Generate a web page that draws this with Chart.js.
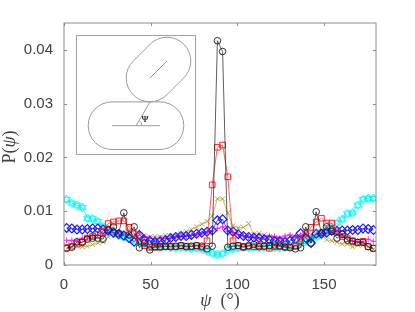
<!DOCTYPE html>
<html>
<head>
<meta charset="utf-8" />
<title>P(psi)</title>
<script src="https://cdn.jsdelivr.net/npm/chart.js@4"></script>
<style>
    body { margin: 0; background: #fff; }
    canvas { display: block; }
</style>
</head>
<body>
<canvas id="psiChart" width="415" height="312"></canvas>
<script>
// angle bins, centre of each 3 degree bin
const psiBins = [1.5,4.5,7.5,10.5,13.5,16.5,19.5,22.5,25.5,28.5,31.5,34.5,37.5,40.5,43.5,46.5,49.5,52.5,55.5,58.5,
    61.5,64.5,67.5,70.5,73.5,76.5,79.5,82.5,85.5,88.5,91.5,94.5,97.5,100.5,103.5,106.5,109.5,112.5,115.5,118.5,
    121.5,124.5,127.5,130.5,133.5,136.5,139.5,142.5,145.5,148.5,151.5,154.5,157.5,160.5,163.5,166.5,169.5,172.5,175.5,178.5];

const blackVals = [.0031,.0033,.0043,.0042,.0048,.0050,.0050,.0048,.0065,.0071,.0059,.0097,.0056,.0071,.0032,.0041,.0028,.0034,.0034,.0035,
    .0034,.0035,.0036,.0034,.0035,.0036,.0035,.0030,.0035,.0417,.0397,.0033,.0035,.0036,.0034,.0036,.0038,.0034,.0035,.0036,
    .0037,.0035,.0033,.0032,.0030,.0032,.0071,.0041,.0099,.0060,.0071,.0062,.0050,.0057,.0046,.0044,.0042,.0042,.0034,.0031];
const redVals = [.0032,.0035,.0039,.0043,.0050,.0053,.0057,.0063,.0077,.0080,.0082,.0082,.0070,.0058,.0045,.0036,.0033,.0033,.0033,.0034,
    .0035,.0034,.0036,.0035,.0034,.0036,.0033,.0045,.0149,.0219,.0223,.0164,.0045,.0036,.0033,.0035,.0034,.0036,.0035,.0031,
    .0034,.0036,.0034,.0033,.0035,.0045,.0058,.0070,.0080,.0087,.0078,.0078,.0064,.0053,.0049,.0045,.0042,.0044,.0034,.0031];
const oliveVals = [.0037,.0034,.0036,.0034,.0035,.0038,.0041,.0043,.0052,.0058,.0061,.0060,.0058,.0051,.0057,.0054,.0052,.0053,.0052,.0055,
    .0052,.0054,.0058,.0062,.0066,.0071,.0076,.0081,.0091,.0123,.0123,.0097,.0073,.0069,.0070,.0077,.0057,.0059,.0056,.0053,
    .0051,.0050,.0049,.0053,.0052,.0043,.0050,.0056,.0058,.0056,.0047,.0045,.0042,.0039,.0039,.0034,.0037,.0037,.0034,.0029];
const magentaVals = [.0046,.0046,.0046,.0050,.0052,.0055,.0055,.0055,.0060,.0060,.0060,.0058,.0056,.0054,.0060,.0052,.0050,.0048,.0050,.0049,
    .0050,.0052,.0053,.0054,.0055,.0056,.0058,.0061,.0063,.0068,.0071,.0063,.0060,.0056,.0054,.0052,.0052,.0050,.0052,.0054,
    .0053,.0050,.0054,.0056,.0051,.0055,.0056,.0052,.0057,.0056,.0058,.0060,.0062,.0054,.0052,.0045,.0044,.0043,.0048,.0044];
const blueVals = [.0069,.0068,.0066,.0066,.0067,.0068,.0068,.0066,.0064,.0060,.0057,.0055,.0050,.0043,.0056,.0046,.0045,.0043,.0044,.0046,
    .0050,.0052,.0054,.0054,.0056,.0058,.0060,.0062,.0064,.0083,.0085,.0064,.0062,.0057,.0054,.0052,.0051,.0050,.0048,.0047,
    .0045,.0044,.0043,.0045,.0048,.0059,.0050,.0041,.0058,.0058,.0060,.0064,.0063,.0064,.0064,.0065,.0065,.0068,.0067,.0065];
const cyanVals = [.0122,.0115,.0111,.0107,.0087,.0086,.0081,.0071,.0062,.0059,.0056,.0052,.0050,.0045,.0042,.0040,.0038,.0036,.0035,.0034,
    .0033,.0032,.0033,.0032,.0031,.0032,.0030,.0026,.0022,.0019,.0021,.0028,.0031,.0032,.0033,.0032,.0033,.0032,.0033,.0034,
    .0033,.0032,.0034,.0035,.0036,.0040,.0044,.0048,.0052,.0058,.0065,.0070,.0078,.0085,.0095,.0097,.0111,.0122,.0124,.0124];

const inkGrey = '#8c8c8c';
const textGrey = '#404040';

// six pointed star for the cyan series
function hexagram(size, color) {
    const c = document.createElement('canvas');
    c.width = size; c.height = size;
    const g = c.getContext('2d');
    const m = size / 2, r = size / 2 - 1;
    g.strokeStyle = color;
    g.lineWidth = 0.9;
    [0, Math.PI].forEach(off => {
        g.beginPath();
        for (let i = 0; i < 3; i++) {
            const a = off - Math.PI / 2 + i * 2 * Math.PI / 3;
            g.lineTo(m + r * Math.cos(a), m + r * Math.sin(a));
        }
        g.closePath();
        g.stroke();
    });
    return c;
}

function series(vals, color, style, radius, markerWidth) {
    return {
        data: psiBins.map((x, i) => ({ x: x, y: vals[i] })),
        borderColor: color,
        borderWidth: 0.7,
        pointStyle: style,
        pointRadius: radius,
        pointBorderColor: color,
        pointBorderWidth: markerWidth,
        pointBackgroundColor: 'transparent',
        tension: 0
    };
}

// box, inward ticks, axis titles and the little inset sketch
const framePlugin = {
    id: 'frame',
    afterDatasetsDraw(chart) {
        const ctx = chart.ctx;
        const { left, right, top, bottom } = chart.chartArea;
        const xs = chart.scales.x, ys = chart.scales.y;
        ctx.save();
        ctx.strokeStyle = inkGrey;
        ctx.lineWidth = 1;
        ctx.strokeRect(left, top, right - left, bottom - top);
        ctx.beginPath();
        xs.ticks.forEach(t => {
            const p = Math.round(xs.getPixelForValue(t.value)) + 0.5;
            ctx.moveTo(p, bottom); ctx.lineTo(p, bottom - 3);
            ctx.moveTo(p, top); ctx.lineTo(p, top + 3);
        });
        ys.ticks.forEach(t => {
            const p = Math.round(ys.getPixelForValue(t.value)) + 0.5;
            ctx.moveTo(left, p); ctx.lineTo(left + 3, p);
            ctx.moveTo(right, p); ctx.lineTo(right - 3, p);
        });
        ctx.stroke();

        // inset
        ctx.strokeStyle = '#a0a0a0';
        ctx.strokeRect(76.5, 35.5, 119, 119);
        ctx.strokeStyle = '#9a9a9a';
        stadium(ctx, 112, 125.7, 160, 125.7, 23.8);
        stadium(ctx, 150, 78, 167, 61, 23.8);
        ctx.beginPath();
        ctx.moveTo(112, 125.7); ctx.lineTo(160, 125.7);
        ctx.moveTo(150, 78); ctx.lineTo(167, 61);
        ctx.moveTo(150, 102); ctx.lineTo(136, 125.7);
        ctx.stroke();
        ctx.beginPath();
        ctx.arc(136, 125.7, 6, -Math.PI / 3, 0);
        ctx.stroke();
        ctx.fillStyle = '#333';
        ctx.textAlign = 'center';
        ctx.textBaseline = 'middle';
        ctx.font = 'bold 9px "Liberation Serif"';
        ctx.fillText('\u03A8', 145, 120);

        // axis titles
        ctx.fillStyle = textGrey;
        ctx.textAlign = 'left';
        ctx.textBaseline = 'alphabetic';
        ctx.font = 'italic 18px "Liberation Serif"';
        const psiW = ctx.measureText('\u03C8').width;
        ctx.font = '18px "Liberation Serif"';
        const restW = ctx.measureText('  (\u00B0)').width;
        let x0 = 220 - (psiW + restW) / 2;
        ctx.font = 'italic 18px "Liberation Serif"';
        ctx.fillText('\u03C8', x0, 306);
        ctx.font = '18px "Liberation Serif"';
        ctx.fillText('  (\u00B0)', x0 + psiW, 306);

        ctx.translate(15, 147);
        ctx.rotate(-Math.PI / 2);
        const pre = 'P(', post = ')';
        const w1 = ctx.measureText(pre).width, w3 = ctx.measureText(post).width;
        const total = w1 + psiW + w3;
        ctx.fillText(pre, -total / 2, 0);
        ctx.fillText(post, -total / 2 + w1 + psiW, 0);
        ctx.font = 'italic 18px "Liberation Serif"';
        ctx.fillText('\u03C8', -total / 2 + w1, 0);
        ctx.restore();
    }
};

function stadium(ctx, x1, y1, x2, y2, r) {
    const a = Math.atan2(y2 - y1, x2 - x1);
    ctx.beginPath();
    ctx.arc(x1, y1, r, a + Math.PI / 2, a + 3 * Math.PI / 2);
    ctx.arc(x2, y2, r, a - Math.PI / 2, a + Math.PI / 2);
    ctx.closePath();
    ctx.stroke();
}

// first dataset ends up on top
new Chart(document.getElementById('psiChart').getContext('2d'), {
    type: 'line',
    data: {
        datasets: [
            series(blackVals, '#1a1a1a', 'circle', 3.3, 0.9),
            series(redVals, '#ff2020', 'rect', 4, 1),
            series(blueVals, '#1c1cf0', 'rectRot', 4.4, 1.2),
            series(cyanVals, '#00ffff', hexagram(11, '#00f4f4'), 4.5, 1),
            series(magentaVals, '#ff00ff', 'cross', 3, 0.8),
            series(oliveVals, '#b0a030', 'crossRot', 3.5, 0.9)
        ]
    },
    plugins: [framePlugin],
    options: {
        responsive: false,
        animation: false,
        layout: { padding: { top: 23, right: 39, left: 0, bottom: 0 } },
        plugins: { legend: { display: false }, tooltip: { enabled: false } },
        scales: {
            x: {
                type: 'linear', min: 0, max: 180,
                border: { display: false },
                grid: { display: false },
                afterFit(s) { s.height = 47; },
                ticks: {
                    stepSize: 50, includeBounds: false, maxRotation: 0, padding: 3,
                    color: textGrey, font: { family: '"Liberation Sans"', size: 15 }
                }
            },
            y: {
                type: 'linear', min: 0, max: 0.045,
                border: { display: false },
                grid: { display: false },
                afterFit(s) { s.width = 64; },
                ticks: {
                    stepSize: 0.01, includeBounds: false, padding: 3,
                    color: textGrey, font: { family: '"Liberation Sans"', size: 15 }
                }
            }
        }
    }
});
</script>
</body>
</html>
